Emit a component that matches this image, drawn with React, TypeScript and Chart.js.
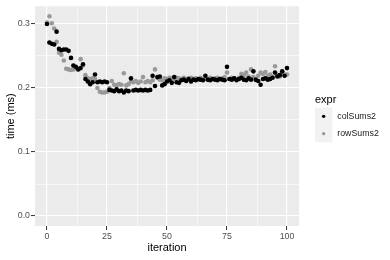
import React, { useEffect, useRef } from "react";
import { Chart, registerables } from "chart.js";
Chart.register(...registerables);

const seriesLabels = ["colSums2", "rowSums2"];
const seriesColors = ["#000000", "#999999"];
const legendTitle = "expr";
const xTitle = "iteration";
const yTitle = "time (ms)";
const xMajorTicks = [0, 25, 50, 75, 100];
const xMinorTicks = [12.5, 37.5, 62.5, 87.5];
const yMajorTicks = [0, 0.1, 0.2, 0.3];
const yMinorTicks = [0.05, 0.15, 0.25];

const colSums2 = [
  0.300, 0.271, 0.269, 0.268, 0.288, 0.261, 0.259, 0.260, 0.260, 0.258,
  0.247, 0.235, 0.233, 0.229, 0.231, 0.237, 0.214, 0.210, 0.206, 0.209,
  0.221, 0.209, 0.210, 0.209, 0.210, 0.209, 0.197, 0.196, 0.195, 0.198,
  0.195, 0.196, 0.193, 0.196, 0.195, 0.215, 0.196, 0.197, 0.196, 0.197,
  0.196, 0.197, 0.196, 0.197, 0.219, 0.203, 0.217, 0.218, 0.204, 0.206,
  0.210, 0.212, 0.208, 0.217, 0.209, 0.208, 0.212, 0.213, 0.211, 0.214,
  0.210, 0.213, 0.212, 0.214, 0.213, 0.212, 0.219, 0.213, 0.212, 0.214,
  0.213, 0.212, 0.214, 0.213, 0.212, 0.233, 0.214, 0.213, 0.215, 0.212,
  0.214, 0.216, 0.213, 0.212, 0.215, 0.213, 0.226, 0.213, 0.211, 0.205,
  0.214, 0.215, 0.213, 0.214, 0.216, 0.224, 0.218, 0.220, 0.226, 0.219,
  0.231,
];

const rowSums2 = [
  0.302, 0.312, 0.301, 0.293, 0.272, 0.255, 0.252, 0.243, 0.230, 0.229,
  0.228, 0.229, 0.231, 0.230, 0.245, 0.235, 0.220, 0.215, 0.214, 0.215,
  0.214, 0.200, 0.194, 0.193, 0.193, 0.194, 0.200, 0.211, 0.205, 0.204,
  0.206, 0.205, 0.223, 0.204, 0.206, 0.210, 0.209, 0.211, 0.208, 0.210,
  0.217, 0.209, 0.211, 0.209, 0.212, 0.229, 0.216, 0.213, 0.212, 0.215,
  0.214, 0.216, 0.215, 0.214, 0.216, 0.215, 0.214, 0.216, 0.213, 0.215,
  0.216, 0.214, 0.215, 0.213, 0.216, 0.214, 0.215, 0.213, 0.216, 0.214,
  0.215, 0.216, 0.214, 0.215, 0.217, 0.224, 0.214, 0.216, 0.215, 0.214,
  0.216, 0.222, 0.220, 0.224, 0.218, 0.229, 0.217, 0.212, 0.219, 0.224,
  0.222, 0.225, 0.219, 0.221, 0.217, 0.234, 0.220, 0.218, 0.222, 0.221,
  0.221,
];

const FONT = "'Liberation Sans', Arial, Helvetica, sans-serif";

const isMajor = (v: number, majors: number[]) =>
  majors.some((m) => Math.abs(m - v) < 1e-9);

const panelBg = {
  id: "panelBg",
  beforeDraw(chart: any) {
    const { ctx, chartArea } = chart;
    ctx.save();
    ctx.fillStyle = "#EBEBEB";
    ctx.fillRect(chartArea.left, chartArea.top, chartArea.right - chartArea.left, chartArea.bottom - chartArea.top);
    ctx.restore();
  },
};

const ggLegend = {
  id: "ggLegend",
  afterDraw(chart: any) {
    const { ctx } = chart;
    const x0 = 315;
    ctx.save();
    ctx.fillStyle = "#000";
    ctx.font = `11px ${FONT}`;
    ctx.textBaseline = "middle";
    ctx.textAlign = "left";
    ctx.fillText(legendTitle, x0, 99.5);
    const keySize = 17.3;
    const top = 107.7;
    chart.data.datasets.forEach((ds: any, i: number) => {
      const ky = top + i * keySize;
      ctx.fillStyle = "#F2F2F2";
      ctx.fillRect(x0, ky, keySize, keySize);
      ctx.fillStyle = ds.backgroundColor;
      ctx.beginPath();
      ctx.arc(x0 + keySize / 2, ky + keySize / 2, 1.7, 0, Math.PI * 2);
      ctx.fill();
      ctx.fillStyle = "#1A1A1A";
      ctx.font = `8.8px ${FONT}`;
      ctx.fillText(ds.label, x0 + keySize + 5, ky + keySize / 2);
    });
    ctx.restore();
  },
};

export default function App() {
  const ref = useRef<HTMLCanvasElement | null>(null);
  useEffect(() => {
    if (!ref.current) return;
    const series = [colSums2, rowSums2];
    const chart = new Chart(ref.current, {
      type: "scatter",
      data: {
        datasets: series.map((vals, s) => ({
          label: seriesLabels[s],
          data: vals.map((v, i) => ({ x: i, y: v })),
          backgroundColor: seriesColors[s],
          borderColor: seriesColors[s],
          pointRadius: 2.3,
          pointBorderWidth: 0,
          pointHoverRadius: 2.3,
        })),
      },
      options: {
        animation: false,
        responsive: false,
        devicePixelRatio: 1,
        layout: { padding: { left: 0, top: 4, right: 91, bottom: 0 } },
        plugins: { legend: { display: false }, tooltip: { enabled: false } },
        scales: {
          x: {
            type: "linear",
            min: -5,
            max: 105,
            afterFit: (scale: any) => { scale.height = 34; },
            afterBuildTicks: (scale: any) => {
              scale.ticks = [...xMajorTicks, ...xMinorTicks].sort((a, b) => a - b).map((v) => ({ value: v }));
            },
            border: { display: false },
            grid: {
              color: "#FFFFFF",
              lineWidth: (c: any) => (isMajor(c.tick?.value, xMajorTicks) ? 1.1 : 0.55),
              tickColor: (c: any) => (isMajor(c.tick?.value, xMajorTicks) ? "#333333" : "rgba(0,0,0,0)"),
              tickLength: 4,
              tickWidth: 1,
            },
            ticks: {
              autoSkip: false,
              maxRotation: 0,
              padding: 1,
              color: "#4D4D4D",
              font: { family: FONT, size: 8.8 },
              callback: (v: any) => (isMajor(v, xMajorTicks) ? String(v) : ""),
            },
            title: {
              display: true,
              text: xTitle,
              color: "#000",
              font: { family: FONT, size: 11 },
              padding: { top: 0, bottom: 5 },
            },
          },
          y: {
            type: "linear",
            min: -0.0156,
            max: 0.3276,
            afterFit: (scale: any) => { scale.width = 35; },
            afterBuildTicks: (scale: any) => {
              scale.ticks = [...yMajorTicks, ...yMinorTicks].sort((a, b) => a - b).map((v) => ({ value: v }));
            },
            border: { display: false },
            grid: {
              color: "#FFFFFF",
              lineWidth: (c: any) => (isMajor(c.tick?.value, yMajorTicks) ? 1.1 : 0.55),
              tickColor: (c: any) => (isMajor(c.tick?.value, yMajorTicks) ? "#333333" : "rgba(0,0,0,0)"),
              tickLength: 4,
              tickWidth: 1,
            },
            ticks: {
              autoSkip: false,
              padding: 1,
              color: "#4D4D4D",
              font: { family: FONT, size: 8.8 },
              callback: (v: any) => (isMajor(v, yMajorTicks) ? Number(v).toFixed(1) : ""),
            },
            title: {
              display: true,
              text: yTitle,
              color: "#000",
              font: { family: FONT, size: 11 },
              padding: { top: 4, bottom: 0 },
            },
          },
        },
      },
      plugins: [panelBg, ggLegend],
    });
    return () => chart.destroy();
  }, []);
  return (
    <div style={{ position: "fixed", left: 0, top: 0, width: 390, height: 260, background: "#fff" }}>
      <canvas ref={ref} width={390} height={260} />
    </div>
  );
}
